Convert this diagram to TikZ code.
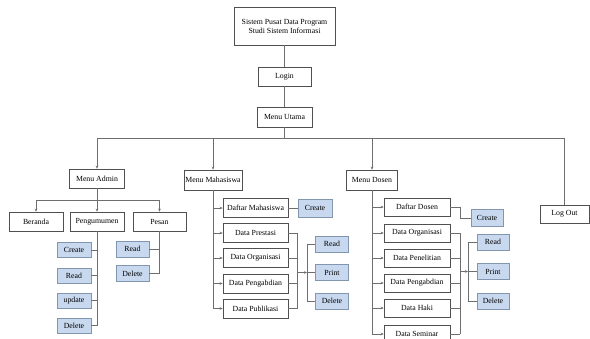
\documentclass[tikz,border=0pt]{standalone}
\usepackage{fontspec}
\setmainfont{Liberation Serif}
\usetikzlibrary{arrows.meta,shadows}
\definecolor{lnc}{RGB}{110,110,110}
\definecolor{bxc}{RGB}{80,80,80}
\definecolor{bfill}{RGB}{200,216,238}
\definecolor{bdraw}{RGB}{130,150,175}
\newcommand{\fsz}{\fontsize{7.8}{9}\selectfont}
\begin{document}
\begin{tikzpicture}[x=1pt,y=-1pt,
  wbox/.style={draw=bxc, fill=white, line width=0.6pt, inner sep=0pt, font=\fsz, align=center},
  bbox/.style={draw=bdraw, fill=bfill, line width=0.6pt, inner sep=0pt, font=\fsz,
    drop shadow={shadow xshift=0.8pt, shadow yshift=-0.8pt, opacity=0.35, fill=gray}},
  ln/.style={draw=lnc, line width=0.7pt},
  arr/.style={ln, -{Stealth[length=3pt,width=2.6pt]}}]
\useasboundingbox[fill=white] (0,0) rectangle (590,338);
% top part
\node[wbox, minimum width=101pt, minimum height=38pt] (top) at (284.5,26) {Sistem Pusat Data Program\\Studi Sistem Informasi};
\node[wbox, minimum width=53pt, minimum height=19pt] (login) at (284.5,76.5) {Login};
\node[wbox, minimum width=55pt, minimum height=20pt] (utama) at (284.5,117) {Menu Utama};
\draw[ln] (top) -- (login);
\draw[ln] (login) -- (utama);
\coordinate (bL) at (97,138);
\coordinate (bR) at (564,138);
\draw[ln] (utama.south) -- (utama.south |- bL);
\draw[ln] (bL) -- (bR);
% Admin
\node[wbox, minimum width=55pt, minimum height=19pt] (madmin) at (97,178.5) {Menu Admin};
\draw[arr] (bL) -- (madmin.north);
\node[wbox, minimum width=54pt, minimum height=19pt] (beranda) at (36,221.5) {Beranda};
\node[wbox, minimum width=54pt, minimum height=19pt] (peng) at (97,221.5) {Pengumumen};
\node[wbox, minimum width=53pt, minimum height=19pt] (pesan) at (159.5,221.5) {Pesan};
\coordinate (aL) at (36,200);
\coordinate (aR) at (159.5,200);
\draw[ln] (madmin.south) -- (madmin.south |- aL);
\draw[ln] (aL) -- (aR);
\draw[arr] (aL) -- (beranda.north);
\draw[arr] (madmin.south |- aL) -- (peng.north);
\draw[arr] (aR) -- (pesan.north);
\node[bbox, minimum width=34pt, minimum height=15pt] (pcre) at (74,250) {Create};
\node[bbox, minimum width=34pt, minimum height=15pt] (prea) at (74,275.5) {Read};
\node[bbox, minimum width=34pt, minimum height=15pt] (pupd) at (74,300.5) {update};
\node[bbox, minimum width=34pt, minimum height=15pt] (pdel) at (74,325.5) {Delete};
\draw[ln] (peng.south) -- (peng.south |- pdel);
\foreach \n in {pcre,prea,pupd,pdel}{\draw[ln] (\n.east) -- (\n.east -| peng.south);}
\node[bbox, minimum width=33pt, minimum height=16pt] (srea) at (132.5,249) {Read};
\node[bbox, minimum width=33pt, minimum height=16pt] (sdel) at (132.5,273.5) {Delete};
\draw[ln] (pesan.south) -- (pesan.south |- sdel);
\foreach \n in {srea,sdel}{\draw[ln] (\n.east) -- (\n.east -| pesan.south);}
% Mahasiswa
\node[wbox, minimum width=58pt, minimum height=20pt] (mmhs) at (213,180) {Menu Mahasiswa};
\draw[arr] (mmhs.north |- bL) -- (mmhs.north);
\foreach \n/\y/\t in {mdaf/208/Daftar Mahasiswa, mpre/233/Data Prestasi, morg/258/Data Organisasi, mpeng/283.5/Data Pengabdian, mpub/308.5/Data Publikasi}{
  \node[wbox, minimum width=65pt, minimum height=19pt] (\n) at (255.5,\y) {\t};
  \draw[arr] (213,\y) -- (\n.west);
}
\draw[ln] (mmhs.south) -- (mmhs.south |- mpub);
\node[bbox, minimum width=34pt, minimum height=18pt] (mcre) at (315,208) {Create};
\draw[ln] (mdaf.east) -- (mcre.west);
\coordinate (mb1t) at (297,233);
\coordinate (mb1b) at (297,308.5);
\draw[ln] (mb1t) -- (mb1b);
\foreach \n in {mpre,morg,mpeng,mpub}{\draw[ln] (\n.east) -- (\n.east -| mb1t);}
\node[bbox, minimum width=33pt, minimum height=16pt] (mrea) at (332,244) {Read};
\node[bbox, minimum width=33pt, minimum height=16pt] (mpri) at (332,272.5) {Print};
\node[bbox, minimum width=33pt, minimum height=16pt] (mdel) at (332,301) {Delete};
\coordinate (mb2) at (307,272.5);
\draw[arr] (mb1t |- mb2) -- (mb2);
\draw[ln] (mb2 |- mrea) -- (mb2 |- mdel);
\foreach \n in {mrea,mpri,mdel}{\draw[ln] (\n.west) -- (\n.west -| mb2);}
% Dosen
\node[wbox, minimum width=51pt, minimum height=20pt] (mdos) at (372,180) {Menu Dosen};
\draw[arr] (mdos.north |- bL) -- (mdos.north);
\foreach \n/\y/\t in {ddaf/207/Daftar Dosen, dorg/233/Data Organisasi, dpen/258/Data Penelitian, dpeng/283/Data Pengabdian, dhak/308/Data Haki, dsem/334/Data Seminar}{
  \node[wbox, minimum width=66pt, minimum height=18pt] (\n) at (417,\y) {\t};
  \draw[arr] (372,\y) -- (\n.west);
}
\draw[ln] (mdos.south) -- (mdos.south |- dsem);
\node[bbox, minimum width=32pt, minimum height=17pt] (dcre) at (487,218) {Create};
\coordinate (db1) at (460,207);
\draw[ln] (ddaf.east) -- (db1) |- (dcre.west);
\coordinate (db1t) at (460,233);
\coordinate (db1b) at (460,334);
\draw[ln] (db1t) -- (db1b);
\foreach \n in {dorg,dpen,dpeng,dhak,dsem}{\draw[ln] (\n.east) -- (\n.east -| db1t);}
\node[bbox, minimum width=32pt, minimum height=16pt] (drea) at (493,242) {Read};
\node[bbox, minimum width=32pt, minimum height=16pt] (dpri) at (493,271.5) {Print};
\node[bbox, minimum width=32pt, minimum height=16pt] (ddel) at (493,301) {Delete};
\coordinate (db2) at (468,271.5);
\draw[arr] (db1t |- db2) -- (db2);
\draw[ln] (db2 |- drea) -- (db2 |- ddel);
\foreach \n in {drea,dpri,ddel}{\draw[ln] (\n.west) -- (\n.west -| db2);}
% Log Out
\node[wbox, minimum width=49pt, minimum height=18pt] (logout) at (564.5,214) {Log Out};
\draw[ln] (bR) -- (logout.north -| bR);
\end{tikzpicture}
\end{document}
